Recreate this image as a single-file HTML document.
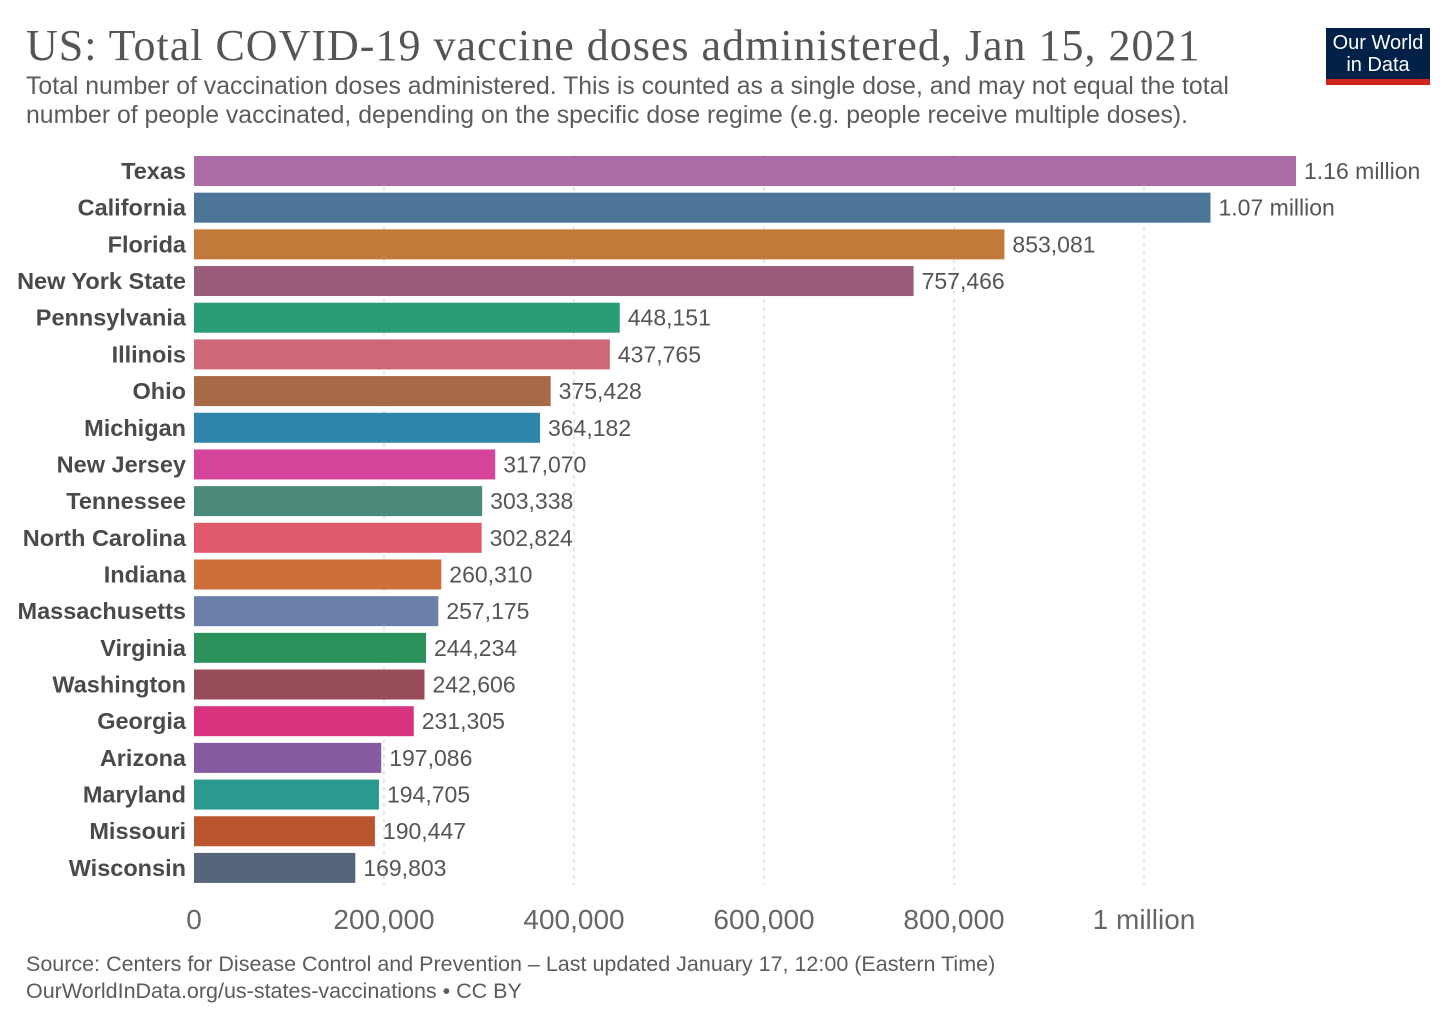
<!DOCTYPE html>
<html><head><meta charset="utf-8">
<style>
body{margin:0;background:#fff;width:1456px;height:1028px;overflow:hidden;font-family:"Liberation Sans",sans-serif;}
#title{position:absolute;left:26px;top:20px;font-family:"Liberation Serif",serif;font-size:44px;letter-spacing:1px;color:#555;white-space:nowrap;}
#sub{position:absolute;left:26px;top:72px;font-size:24.8px;line-height:29px;color:#5b5b5b;white-space:nowrap;}
#logo{position:absolute;left:1326px;top:28px;width:104px;height:57px;background:#002147;color:#fff;font-size:20px;line-height:22px;text-align:center;box-sizing:border-box;padding-top:4px;border-bottom:6px solid #ce261e;}
#foot{position:absolute;left:26px;top:951px;font-size:21.5px;line-height:27px;color:#5b5b5b;white-space:nowrap;}
svg{position:absolute;left:0;top:0;}
</style></head><body>
<div id="title">US: Total COVID-19 vaccine doses administered, Jan 15, 2021</div>
<div id="sub">Total number of vaccination doses administered. This is counted as a single dose, and may not equal the total<br>number of people vaccinated, depending on the specific dose regime (e.g. people receive multiple doses).</div>
<div id="logo">Our World<br>in Data</div>
<svg id="chart" width="1456" height="1028"></svg>
<div id="foot">Source: Centers for Disease Control and Prevention – Last updated January 17, 12:00 (Eastern Time)<br>OurWorldInData.org/us-states-vaccinations • CC BY</div>
<script>
const categories=["Texas","California","Florida","New York State","Pennsylvania","Illinois","Ohio","Michigan","New Jersey","Tennessee","North Carolina","Indiana","Massachusetts","Virginia","Washington","Georgia","Arizona","Maryland","Missouri","Wisconsin"];
const values=[1160000,1070000,853081,757466,448151,437765,375428,364182,317070,303338,302824,260310,257175,244234,242606,231305,197086,194705,190447,169803];
const valueLabels=["1.16 million","1.07 million","853,081","757,466","448,151","437,765","375,428","364,182","317,070","303,338","302,824","260,310","257,175","244,234","242,606","231,305","197,086","194,705","190,447","169,803"];
const colors=["#ad6ba7","#4c7598","#c27a3a","#9a5c7a","#2a9c77","#cc6878","#a66a47","#2f86ab","#d4449a","#4b8a7b","#e05a6b","#cd6f38","#6a80ab","#2a925a","#984b58","#d7337e","#855aa0","#2a9a90","#bb552f","#566579"];
const ticks=[0,200000,400000,600000,800000,1000000];
const tickLabels=["0","200,000","400,000","600,000","800,000","1 million"];
const NS="http://www.w3.org/2000/svg";
const svg=document.getElementById('chart');
const x=v=>194+v*0.00095;
const y=i=>171+i*36.68;
function mk(t,a){const e=document.createElementNS(NS,t);for(const k in a)e.setAttribute(k,a[k]);svg.appendChild(e);return e;}
ticks.forEach((t,i)=>{
  if(i>0){const l=mk('line',{x1:x(t),x2:x(t),y1:155,y2:885,stroke:'#ccc','stroke-dasharray':'4,4'});
  
  }
  const tx=mk('text',{x:x(t),y:929,'text-anchor':'middle','font-size':28,fill:'#666'});
  tx.textContent=tickLabels[i];
  
  
});
categories.forEach((c,i)=>{
  const r=mk('rect',{x:x(0),y:y(i)-15,width:x(values[i])-x(0),height:30,fill:colors[i]});
  
  
  const n=mk('text',{x:186,y:y(i)+8,'text-anchor':'end','font-size':23.5,'font-weight':'bold',fill:'#4a4a4a'});
  n.textContent=c;
  
  
  const v=mk('text',{x:x(values[i])+8,y:y(i)+8,'font-size':23,fill:'#555'});
  v.textContent=valueLabels[i];
  
  
});
</script>
</body></html>
